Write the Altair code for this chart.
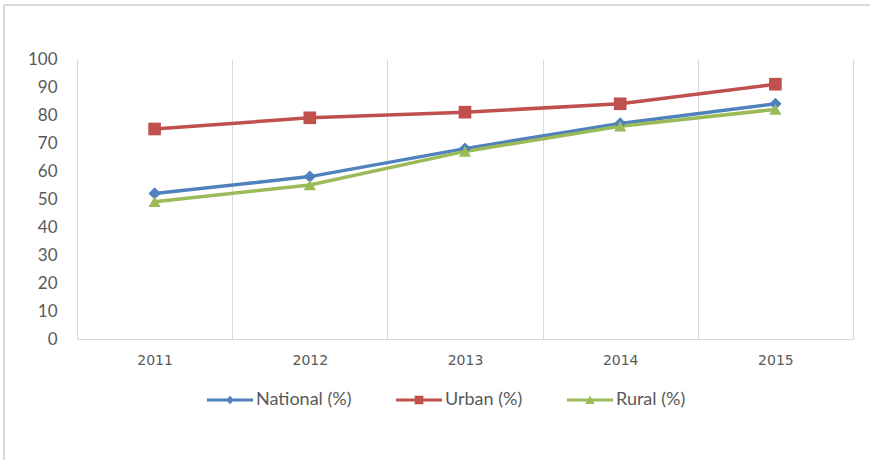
import altair as alt
import pandas as pd

years = ["2011", "2012", "2013", "2014", "2015"]
series_names = ["National (%)", "Urban (%)", "Rural (%)"]
national = [52, 58, 68, 77, 84]
urban = [75, 79, 81, 84, 91]
rural = [49, 55, 67, 76, 82]
y_ticks = [0, 10, 20, 30, 40, 50, 60, 70, 80, 90, 100]

colors = ["#4F81BD", "#C0504D", "#9BBB59"]
point_shapes = ["diamond", "square", "triangle-up"]
point_sizes = [150, 160, 150]
legend_shapes = [
    "M-1,-0.06H1V0.06H-1ZM-0.18,0L0,-0.18L0.18,0L0,0.18Z",
    "M-1,-0.06H1V0.06H-1ZM-0.19,-0.19H0.19V0.19H-0.19Z",
    "M-1,-0.06H1V0.06H-1ZM-0.2,0.17L0,-0.2L0.2,0.17Z",
]

rows = []
for name, vals in zip(series_names, [national, urban, rural]):
    for yr, v in zip(years, vals):
        rows.append({"Year": yr, "Series": name, "Value": v})
df = pd.DataFrame(rows)

x_enc = alt.X(
    "Year:O",
    scale=alt.Scale(type="band", paddingInner=0, paddingOuter=0),
    axis=alt.Axis(
        title=None, labelAngle=0, grid=True, tickBand="extent", ticks=False,
        gridColor="#D9D9D9", gridWidth=1, domainColor="#D9D9D9", domainWidth=1,
        labelFont="DejaVu Sans", labelFontSize=14, labelColor="#595959",
        labelPadding=14,
    ),
)
y_enc = alt.Y(
    "Value:Q",
    scale=alt.Scale(domain=[0, 100], nice=False),
    axis=alt.Axis(
        title=None, values=y_ticks, grid=False, domain=False, ticks=False,
        labelFont="Lato", labelFontSize=17, labelColor="#595959", labelPadding=20,
    ),
)

series_layers = []
for name, col in zip(series_names, colors):
    series_layers.append(
        alt.Chart(df).transform_filter(alt.datum.Series == name)
        .mark_line(strokeWidth=3.5, color=col)
        .encode(x=x_enc, y=y_enc)
    )
for name, col, shp, sz in zip(series_names, colors, point_shapes, point_sizes):
    series_layers.append(
        alt.Chart(df).transform_filter(alt.datum.Series == name)
        .mark_point(filled=True, opacity=1, size=sz, shape=shp, color=col)
        .encode(x=x_enc, y=y_enc)
    )

leg = alt.Legend(
    title=None, orient="none", direction="horizontal", legendX=130, legendY=318,
    symbolSize=2116, labelFont="Lato", labelFontSize=18, labelColor="#595959",
    labelOffset=3, columnPadding=44, symbolStrokeWidth=0, symbolOpacity=1,
)
legend_layer = alt.Chart(df).transform_filter("false").mark_point(filled=True, opacity=1, size=2116).encode(
    x=x_enc, y=y_enc,
    color=alt.Color("Series:N", scale=alt.Scale(domain=series_names, range=colors), legend=leg),
    shape=alt.Shape("Series:N", scale=alt.Scale(domain=series_names, range=legend_shapes), legend=leg),
)

frame_top = alt.Chart(df).mark_rule(color="#D9D9D9", strokeWidth=1.5).encode(
    x=alt.value(-73), x2=alt.value(793), y=alt.value(-54)
)
frame_left = alt.Chart(df).mark_rule(color="#D9D9D9", strokeWidth=1.5).encode(
    x=alt.value(-73), y=alt.value(-54), y2=alt.value(410)
)

chart = alt.layer(frame_top, frame_left, *series_layers, legend_layer).properties(
    width=776, height=280,
    padding={"left": 77, "top": 59, "right": 17, "bottom": 121},
    autosize=alt.AutoSizeParams(type="none"),
    background="white",
).configure_view(stroke=None)

chart.save("out.html", embed_options={"renderer": "svg", "actions": False})
